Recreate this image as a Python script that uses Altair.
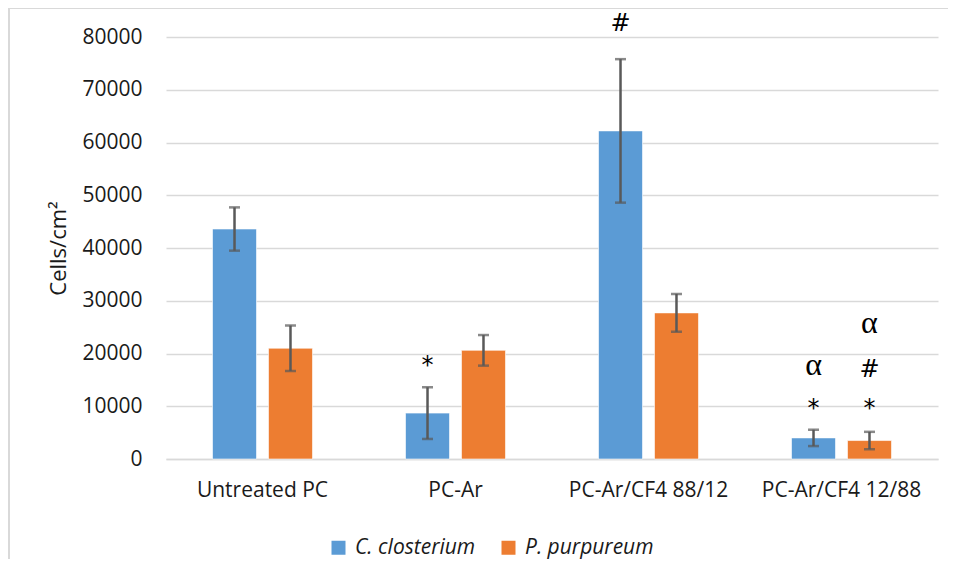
import altair as alt
import pandas as pd

categories = ["Untreated PC", "PC-Ar", "PC-Ar/CF4 88/12", "PC-Ar/CF4 12/88"]
series = ["C. closterium", "P. purpureum"]
c_mean = [43600, 8700, 62200, 4000]
c_err = [4100, 4900, 13600, 1550]
p_mean = [21000, 20600, 27700, 3500]
p_err = [4300, 2900, 3600, 1650]

ann_cat = ["PC-Ar", "PC-Ar/CF4 88/12", "PC-Ar/CF4 12/88", "PC-Ar/CF4 12/88",
           "PC-Ar/CF4 12/88", "PC-Ar/CF4 12/88", "PC-Ar/CF4 12/88"]
ann_series = ["C. closterium", "C. closterium", "C. closterium", "C. closterium",
              "P. purpureum", "P. purpureum", "P. purpureum"]
ann_label = ["*", "#", "*", "α", "*", "#", "α"]
ann_y = [17700, 82500, 9500, 17800, 9500, 16900, 25700]

rows = []
for i, c in enumerate(categories):
    rows.append({"cat": c, "series": series[0], "mean": c_mean[i],
                 "lo": c_mean[i] - c_err[i], "hi": c_mean[i] + c_err[i]})
    rows.append({"cat": c, "series": series[1], "mean": p_mean[i],
                 "lo": p_mean[i] - p_err[i], "hi": p_mean[i] + p_err[i]})
df = pd.DataFrame(rows)
ann = pd.DataFrame({"cat": ann_cat, "series": ann_series, "label": ann_label, "y": ann_y})

W, H = 772, 422
FONT = "Open Sans"
YTITLE = "Cells/cm²"

xaxis = alt.Axis(title=None, labelAngle=0, labelFontSize=21, labelColor="#1a1a1a",
                 labelFont=FONT, ticks=False, grid=False, domainColor="#d9d9d9",
                 domainWidth=1.5, labelPadding=20)
yaxis = alt.Axis(title=YTITLE, values=list(range(0, 80001, 10000)),
                 format="d", labelFontSize=21, labelFont=FONT, labelColor="#1a1a1a",
                 ticks=False, domain=False, labelPadding=24,
                 gridColor="#d9d9d9", gridWidth=1.5,
                 titleFontSize=22, titleFont=FONT, titleFontWeight="normal",
                 titleColor="#1a1a1a", titleAngle=-90, titleX=-108, titleY=H / 2,
                 titleAlign="center", titleBaseline="middle")
yscale = alt.Scale(domain=[0, 80000], nice=False)

xs = alt.X("cat:N", sort=categories,
           scale=alt.Scale(paddingInner=0.482, paddingOuter=0.241), axis=xaxis)
xo = alt.XOffset("series:N", sort=series,
                 scale=alt.Scale(paddingInner=0.214, paddingOuter=0))


def yq(field):
    return alt.Y(field, type="quantitative", scale=yscale, axis=yaxis, title=YTITLE)


bars = alt.Chart(df).mark_bar(stroke="white", strokeWidth=0.6).encode(
    x=xs, xOffset=xo, y=yq("mean"),
    color=alt.Color("series:N", sort=series,
                    scale=alt.Scale(domain=series, range=["#5B9BD5", "#ED7D31"]),
                    legend=alt.Legend(title=None, orient="none", direction="horizontal",
                                      legendX=162, legendY=500, symbolType="square",
                                      symbolSize=196, symbolStrokeWidth=0,
                                      labelFontSize=21, labelFont=FONT,
                                      labelFontStyle="italic", labelColor="#1a1a1a",
                                      columnPadding=22, labelOffset=6)),
)

err_rule = alt.Chart(df).mark_rule(color="#595959", strokeWidth=2.5).encode(
    x=xs, xOffset=xo, y=yq("lo"), y2="hi:Q")
cap_hi = alt.Chart(df).mark_tick(color="#595959", thickness=2.5, size=11,
                                 orient="horizontal").encode(
    x=xs, xOffset=xo, y=yq("hi"))
cap_lo = alt.Chart(df).mark_tick(color="#595959", thickness=2.5, size=11,
                                 orient="horizontal").encode(
    x=xs, xOffset=xo, y=yq("lo"))

alpha_text = alt.Chart(ann).transform_filter(alt.datum.label == "α").mark_text(
    fontSize=32, font="Liberation Serif", color="#000000",
    baseline="middle", align="center").encode(
    x=xs, xOffset=xo, y=yq("y"), text="label:N")
sym_text = alt.Chart(ann).transform_filter(alt.datum.label != "α").mark_text(
    fontSize=24, font="DejaVu Sans", color="#000000",
    baseline="middle", align="center").encode(
    x=xs, xOffset=xo, y=yq("y"), text="label:N")

border_left = alt.Chart(df).mark_rule(color="#d9d9d9", strokeWidth=2).encode(
    x=alt.value(-157), y=alt.value(-30), y2=alt.value(H + 130))
border_top = alt.Chart(df).mark_rule(color="#d9d9d9", strokeWidth=2).encode(
    x=alt.value(-157), x2=alt.value(W + 10), y=alt.value(-29))

chart = alt.layer(border_left, border_top, bars, err_rule, cap_hi, cap_lo,
                  alpha_text, sym_text).properties(
    width=W, height=H,
    background="white",
    autosize=alt.AutoSizeParams(type="none"),
    padding={"left": 158, "top": 29, "right": 10, "bottom": 100},
).configure_view(strokeWidth=0, stroke="transparent")

chart.save("out.html", embed_options={"renderer": "svg", "actions": False})
